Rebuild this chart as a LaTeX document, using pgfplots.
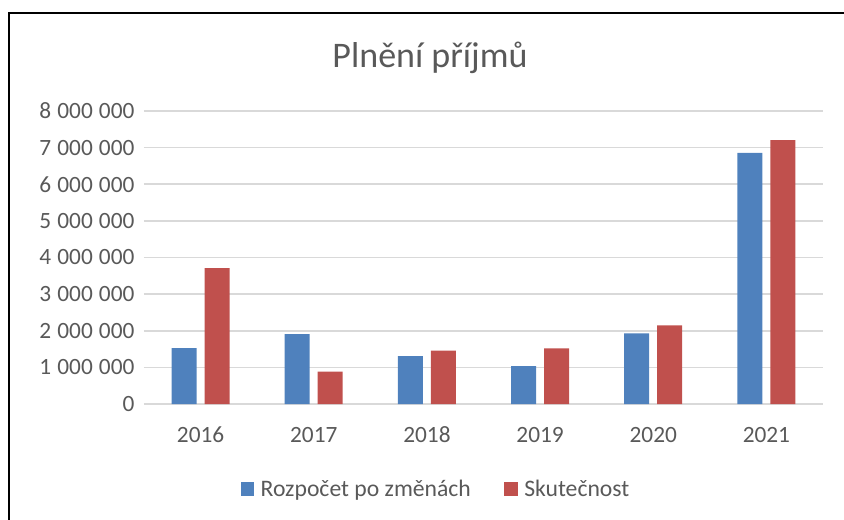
\documentclass[border=0pt]{standalone}
\usepackage{fontspec}
\setmainfont{Carlito}
\usepackage{pgfplots}
\pgfplotsset{compat=1.18}
\definecolor{cblue}{HTML}{4F81BD}
\definecolor{cred}{HTML}{C0504D}
\definecolor{txt}{HTML}{595959}
\definecolor{gridc}{HTML}{D9D9D9}
\newcommand{\gsp}{\hspace{0.26em}}
\begin{document}
\begin{tikzpicture}[x=0.75pt,y=0.75pt]
\useasboundingbox (0,0) rectangle (844,519);
\draw[black, line width=1.5pt] (9,-5) -- (9,506) -- (850,506);
\node[anchor=base, text=txt, font=\fontsize{27}{32}\selectfont, inner sep=0pt] at (430,451) {Plnění příjmů};
\begin{axis}[
  at={(108pt,86.25pt)}, anchor=south west,
  scale only axis, width=509.25pt, height=219.75pt,
  xmin=-0.5, xmax=5.5, ymin=0, ymax=8000000,
  scaled y ticks=false,
  ybar=6pt, bar width=18.75pt,
  axis line style={draw=none},
  major tick length=0pt,
  ymajorgrids, grid style={gridc, line width=1.2pt},
  xtick={0,1,2,3,4,5},
  xticklabels={2016,2017,2018,2019,2020,2021},
  ytick={0,1000000,2000000,3000000,4000000,5000000,6000000,7000000,8000000},
  yticklabels={\mbox{0},\mbox{1\gsp000\gsp000},\mbox{2\gsp000\gsp000},\mbox{3\gsp000\gsp000},\mbox{4\gsp000\gsp000},\mbox{5\gsp000\gsp000},\mbox{6\gsp000\gsp000},\mbox{7\gsp000\gsp000},\mbox{8\gsp000\gsp000}},
  ticklabel style={text=txt, font=\fontsize{17.5}{20}\selectfont},
  yticklabel style={anchor=east, inner sep=0pt, xshift=-7pt},
  xticklabel style={anchor=base, inner sep=0pt, yshift=-28.5pt},
  legend style={at={(0.4286,-0.29)}, anchor=center, draw=none, fill=none,
    legend columns=2, font=\fontsize{17.75}{20}\selectfont, text=txt,
    nodes={inner xsep=0pt},
    /tikz/every odd column/.append style={column sep=5pt},
    /tikz/every even column/.append style={column sep=25pt}},
  legend image code/.code={\fill[#1] (0pt,-5pt) rectangle (10pt,5pt);},
]
\addplot[fill=cblue, draw=none] coordinates {(0,1525000) (1,1910000) (2,1306000) (3,1032000) (4,1930000) (5,6860000)};
\addplot[fill=cred, draw=none] coordinates {(0,3710000) (1,886000) (2,1460000) (3,1516000) (4,2146000) (5,7205000)};
\legend{Rozpočet po změnách, Skutečnost}
\end{axis}
\end{tikzpicture}
\end{document}
